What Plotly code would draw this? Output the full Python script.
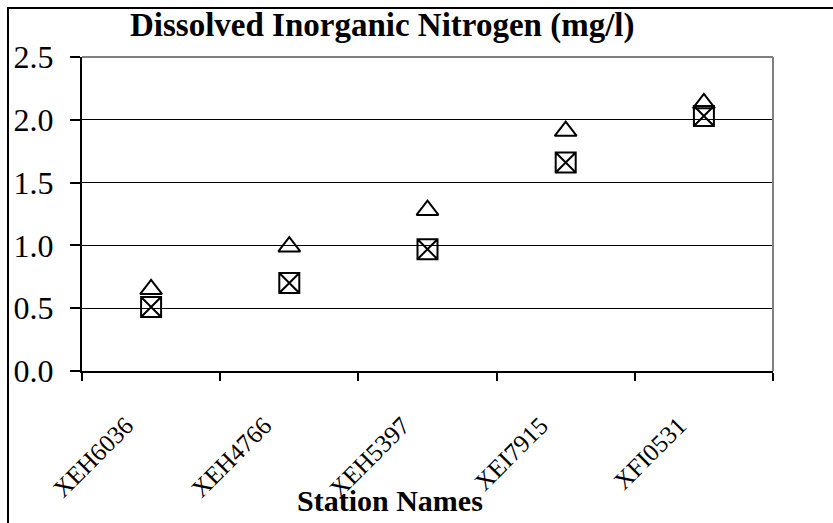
import plotly.graph_objects as go

# Station names and values (mg/l)
stations = ['XEH6036', 'XEH4766', 'XEH5397', 'XEI7915', 'XFI0531']
series_triangle = [0.65, 0.99, 1.28, 1.91, 2.13]
series_square = [0.51, 0.70, 0.97, 1.66, 2.03]
y_ticks = [0.0, 0.5, 1.0, 1.5, 2.0, 2.5]

W, H = 833, 523
L, R, T, B = 82, 60, 57, 152
pw, ph = W - L - R, H - T - B


def px_x(px):
    return (px - L) / pw


def px_y(py):
    return (H - B - py) / ph


SERIF = 'Liberation Serif, Times New Roman, serif'

fig = go.Figure()

fig.add_trace(go.Scatter(
    x=stations, y=series_triangle, mode='markers',
    marker=dict(symbol='triangle-up-open', size=19, color='black',
                line=dict(color='black', width=2)),
    showlegend=False
))
fig.add_trace(go.Scatter(
    x=stations, y=series_square, mode='markers',
    marker=dict(symbol='square-x-open', size=20, color='black',
                line=dict(color='black', width=2)),
    showlegend=False
))

fig.update_xaxes(
    type='category', range=[-0.5, len(stations) - 0.5],
    tickson='boundaries', ticks='outside', ticklen=8, tickwidth=2, tickcolor='black',
    showline=True, linecolor='black', linewidth=2, showgrid=False,
    tickangle=-45, ticklabelstandoff=28, ticklabelshift=-25,
    tickfont=dict(family=SERIF, size=25, color='black')
)
fig.update_yaxes(
    range=[0, 2.5], tickvals=y_ticks, tickformat='.1f',
    ticks='outside', ticklen=10, tickwidth=2, tickcolor='black',
    showline=True, linecolor='black', linewidth=2,
    showgrid=True, gridcolor='black', gridwidth=1, zeroline=False,
    ticklabelstandoff=10,
    tickfont=dict(family=SERIF, size=32, color='black')
)

fig.update_layout(
    width=W, height=H,
    margin=dict(l=L, r=R, t=T, b=B, autoexpand=False),
    paper_bgcolor='white', plot_bgcolor='white',
    font=dict(family=SERIF, color='black'),
    shapes=[
        # outer chart frame
        dict(type='rect', xref='paper', yref='paper',
             x0=px_x(8), x1=px_x(845), y0=px_y(535), y1=px_y(8),
             line=dict(color='black', width=2), layer='below'),
        # grey top and right edges of plot area
        dict(type='line', xref='paper', yref='paper', x0=0, x1=1, y0=1, y1=1,
             line=dict(color='#808080', width=2), layer='above'),
        dict(type='line', xref='paper', yref='paper', x0=1, x1=1, y0=0, y1=1,
             line=dict(color='#808080', width=2), layer='above'),
    ],
    annotations=[
        dict(text='<b>Dissolved Inorganic Nitrogen (mg/l)</b>', xref='paper', yref='paper',
             x=px_x(382), y=px_y(26), xanchor='center', yanchor='middle', showarrow=False,
             font=dict(family=SERIF, size=33, color='black')),
        dict(text='<b>Station Names</b>', xref='paper', yref='paper',
             x=px_x(390), y=px_y(500), xanchor='center', yanchor='middle', showarrow=False,
             font=dict(family=SERIF, size=30, color='black')),
    ]
)

# page body has a default 8px margin; drop it so the figure fills the window
fig.write_html('out.html', config={'displayModeBar': False},
               post_script="document.body.style.margin='0';")
